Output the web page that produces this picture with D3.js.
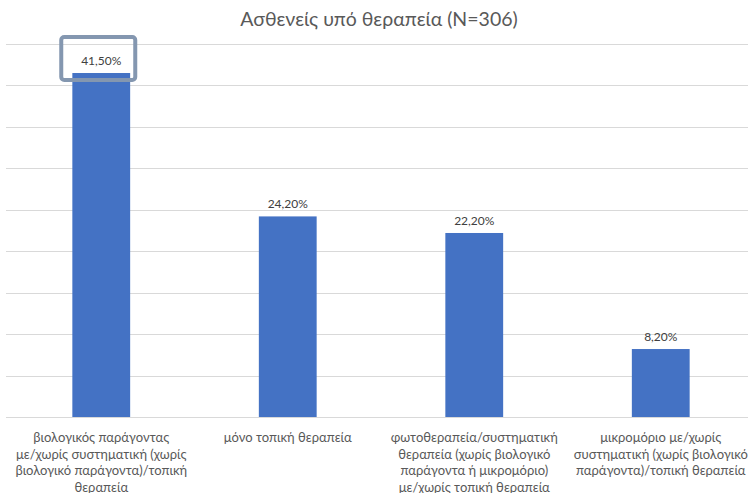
<!DOCTYPE html>
<html>
<head>
<meta charset="utf-8">
<script src="https://cdn.jsdelivr.net/npm/d3@7"></script>
<style>
  html, body { margin: 0; padding: 0; background: #fff; }
  svg { display: block; }
  text { font-family: Lato, "Open Sans", sans-serif; }
</style>
</head>
<body>
<svg id="chart" width="748" height="493"></svg>
<script>
// Share of patients per treatment group (%)
const categories = [
  "βιολογικός παράγοντας με/χωρίς συστηματική (χωρίς βιολογικό παράγοντα)/τοπική θεραπεία",
  "μόνο τοπική θεραπεία",
  "φωτοθεραπεία/συστηματική θεραπεία (χωρίς βιολογικό παράγοντα ή μικρομόριο) με/χωρίς τοπική θεραπεία",
  "μικρομόριο με/χωρίς συστηματική (χωρίς βιολογικό παράγοντα)/τοπική θεραπεία"
];
// Category labels split into their display lines
const categoryLines = [
  ["βιολογικός παράγοντας", "με/χωρίς συστηματική (χωρίς", "βιολογικό παράγοντα)/τοπική", "θεραπεία"],
  ["μόνο τοπική θεραπεία"],
  ["φωτοθεραπεία/συστηματική", "θεραπεία (χωρίς βιολογικό", "παράγοντα ή μικρομόριο)", "με/χωρίς τοπική θεραπεία"],
  ["μικρομόριο με/χωρίς", "συστηματική (χωρίς βιολογικό", "παράγοντα)/τοπική θεραπεία"]
];
const values = [41.5, 24.2, 22.2, 8.2];
const gridTicks = [0, 5, 10, 15, 20, 25, 30, 35, 40, 45];
const highlighted = [0];
const title = "Ασθενείς υπό θεραπεία (N=306)";

const svg = d3.select("#chart");

const x = d3.scaleBand()
  .domain(categories)
  .range([8, 754])
  .paddingInner(0.69)
  .paddingOuter(0.345);

const y = d3.scaleLinear()
  .domain([0, 45])
  .range([417, 44]);

const fmt = v => d3.format(".2f")(v).replace(".", ",") + "%";

// Title
svg.append("text")
  .attr("x", 379)
  .attr("y", 26)
  .attr("text-anchor", "middle")
  .attr("font-size", 19.5)
  .attr("fill", "#595959")
  .text(title);

// Horizontal gridlines
svg.append("g")
  .selectAll("line")
  .data(gridTicks)
  .join("line")
  .attr("x1", 6)
  .attr("x2", 748)
  .attr("y1", d => Math.round(y(d)) + 0.5)
  .attr("y2", d => Math.round(y(d)) + 0.5)
  .attr("stroke", "#d9d9d9")
  .attr("stroke-width", 1);

// Bars
svg.append("g")
  .selectAll("rect")
  .data(values)
  .join("rect")
  .attr("x", (d, i) => x(categories[i]))
  .attr("width", x.bandwidth())
  .attr("y", d => y(d))
  .attr("height", d => y(0) - y(d))
  .attr("fill", "#4472c4");

// Value labels
svg.append("g")
  .selectAll("text")
  .data(values)
  .join("text")
  .attr("x", (d, i) => x(categories[i]) + x.bandwidth() / 2)
  .attr("y", d => y(d) - 8)
  .attr("text-anchor", "middle")
  .attr("font-size", 12)
  .attr("fill", "#404040")
  .text(fmt);

// Highlight frame around selected value labels
svg.append("g")
  .selectAll("rect")
  .data(highlighted)
  .join("rect")
  .attr("x", i => x(categories[i]) + x.bandwidth() / 2 - 40)
  .attr("y", i => y(values[i]) - 36)
  .attr("width", 74)
  .attr("height", 43)
  .attr("rx", 3)
  .attr("fill", "none")
  .attr("stroke", "#8497b0")
  .attr("stroke-width", 4);

// Category labels
const cat = svg.append("g")
  .selectAll("text")
  .data(categoryLines)
  .join("text")
  .attr("text-anchor", "middle")
  .attr("font-size", 13)
  .attr("fill", "#595959")
  .attr("transform", (d, i) => `translate(${x(categories[i]) + x.bandwidth() / 2},442)`);

cat.selectAll("tspan")
  .data(d => d)
  .join("tspan")
  .attr("x", 0)
  .attr("y", (d, j) => j * 16.5)
  .text(d => d);
</script>
</body>
</html>
